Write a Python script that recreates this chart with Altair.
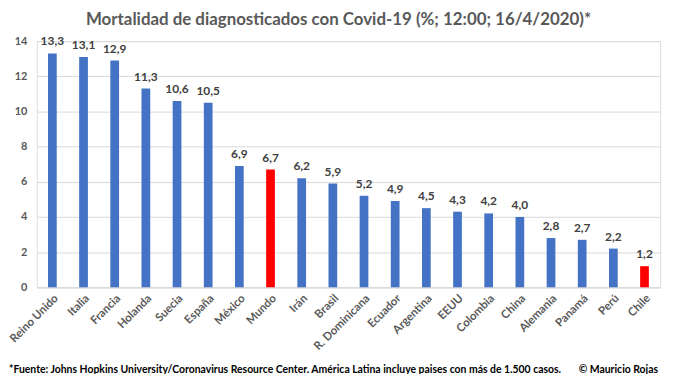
import altair as alt
import pandas as pd

countries = ["Reino Unido", "Italia", "Francia", "Holanda", "Suecia", "España", "México",
             "Mundo", "Irán", "Brasil", "R. Dominicana", "Ecuador", "Argentina", "EEUU",
             "Colombia", "China", "Alemania", "Panamá", "Perú", "Chile"]
values = [13.3, 13.1, 12.9, 11.3, 10.6, 10.5, 6.9, 6.7, 6.2, 5.9, 5.2, 4.9, 4.5, 4.3,
          4.2, 4.0, 2.8, 2.7, 2.2, 1.2]
highlight = ["Mundo", "Chile"]
y_ticks = [0, 2, 4, 6, 8, 10, 12, 14]

title_text = "Mortalidad de diagnosticados con Covid-19 (%; 12:00; 16/4/2020)*"
footer_left = "*Fuente: Johns  Hopkins  University/Coronavirus  Resource  Center. América Latina incluye  paises con más de 1.500 casos."
footer_right = "© Mauricio  Rojas"

FONT = "Lato"
GRAY = "#595959"

df = pd.DataFrame({"pais": countries, "valor": values})
df["grupo"] = ["rojo" if c in highlight else "azul" for c in countries]

W, H = 628, 248

base = alt.Chart(df).encode(
    x=alt.X("pais:N", sort=countries, title=None,
            scale=alt.Scale(paddingInner=0.72, paddingOuter=0.36),
            axis=alt.Axis(labelAngle=-45, labelFont=FONT, labelFontSize=11.5,
                          labelFontWeight="bold", labelColor=GRAY, ticks=False,
                          domainColor="#d9d9d9", labelPadding=5, labelOverlap=False)),
)

y_axis = alt.Axis(values=y_ticks, labelFont=FONT, labelFontSize=11,
                  labelFontWeight="bold", labelColor=GRAY, ticks=False,
                  labelOverlap=False, labelFlush=False,
                  domain=False, gridColor="#d9d9d9", labelPadding=10)
y_scale = alt.Scale(domain=[0, 14], nice=False)

bars = base.mark_bar().encode(
    y=alt.Y("valor:Q", title=None, scale=y_scale, axis=y_axis),
    color=alt.Color("grupo:N", legend=None,
                    scale=alt.Scale(domain=["azul", "rojo"], range=["#4472C4", "#FF0000"])),
)

labels = base.mark_text(font=FONT, fontSize=12, fontWeight="bold", color="#404040",
                        baseline="bottom", dy=-5).transform_calculate(
    lab="replace(format(datum.valor, '.1f'), '.', ',')"
).encode(y=alt.Y("valor:Q", title=None, scale=y_scale, axis=y_axis), text="lab:N")

title = alt.Chart(pd.DataFrame({"t": [title_text]})).mark_text(
    font=FONT, fontSize=17, fontWeight="bold", color=GRAY, align="center", baseline="middle"
).encode(text="t:N", x=alt.value(304), y=alt.value(-21))

foot_l = alt.Chart(pd.DataFrame({"t": [footer_left]})).mark_text(
    font=FONT, fontSize=10.5, fontWeight="bold", color="#000000", align="left", baseline="middle"
).encode(text="t:N", x=alt.value(-28), y=alt.value(331))

foot_r = alt.Chart(pd.DataFrame({"t": [footer_right]})).mark_text(
    font=FONT, fontSize=10.5, fontWeight="bold", color="#000000", align="right", baseline="middle"
).encode(text="t:N", x=alt.value(626), y=alt.value(331))

chart = alt.layer(bars, labels, title, foot_l, foot_r).properties(
    width=W, height=H,
    autosize=alt.AutoSizeParams(type="none"),
    padding={"left": 29, "top": 32, "right": 12, "bottom": 86},
).configure_view(stroke=None).configure(background="white")

chart.save("out.html", embed_options={"renderer": "svg", "actions": False})
